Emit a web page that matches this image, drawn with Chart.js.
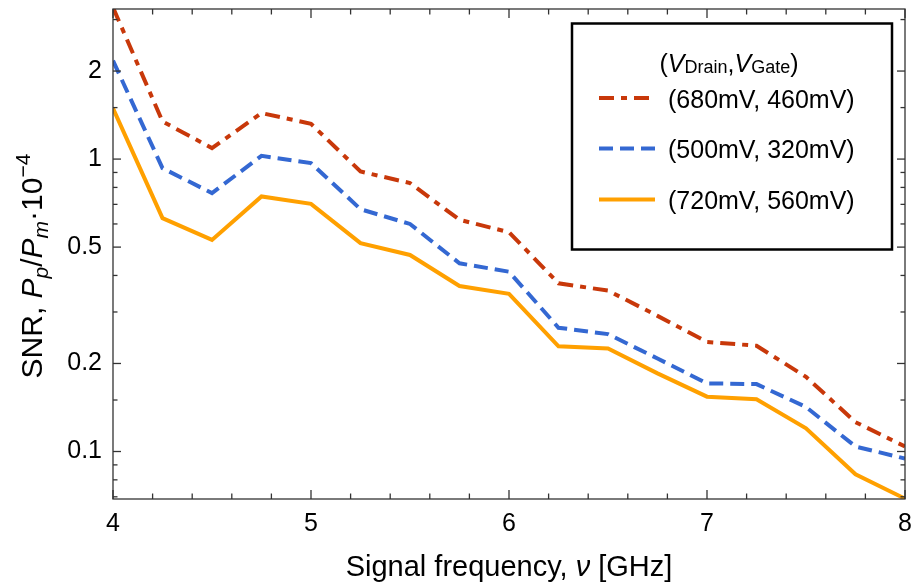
<!DOCTYPE html>
<html>
<head>
<meta charset="utf-8">
<script src="https://cdn.jsdelivr.net/npm/chart.js@4"></script>
<style>
  html, body { margin: 0; padding: 0; background: #fff; }
  #wrap { width: 911px; height: 585px; position: relative; }
</style>
</head>
<body>
<div id="wrap"><canvas id="c" width="911" height="585"></canvas></div>
<script>
// ---- data ----
const freqs = [4, 4.25, 4.5, 4.75, 5, 5.25, 5.5, 5.75, 6, 6.25, 6.5, 6.75, 7, 7.25, 7.5, 7.75, 8];
const snr680_460 = [3.3, 1.345, 1.09, 1.437, 1.32, 0.907, 0.828, 0.62, 0.562, 0.376, 0.355, 0.291, 0.237, 0.23, 0.18, 0.126, 0.104];
const snr500_320 = [2.17, 0.931, 0.765, 1.026, 0.969, 0.674, 0.60, 0.44, 0.412, 0.265, 0.252, 0.208, 0.171, 0.170, 0.142, 0.104, 0.0946];
const snr720_560 = [1.49, 0.628, 0.529, 0.745, 0.703, 0.516, 0.47, 0.368, 0.346, 0.229, 0.225, 0.185, 0.154, 0.151, 0.12, 0.0836, 0.069];
const seriesLabels = ['(680mV, 460mV)', '(500mV, 320mV)', '(720mV, 560mV)'];
const xMajorTicks = [4, 5, 6, 7, 8];
const xMinorTicks = [4.2, 4.4, 4.6, 4.8, 5.2, 5.4, 5.6, 5.8, 6.2, 6.4, 6.6, 6.8, 7.2, 7.4, 7.6, 7.8];
const yMajorTicks = [0.1, 0.2, 0.5, 1, 2];
const yMinorTicks = [0.07, 0.08, 0.09, 0.15, 0.3, 0.4, 0.6, 0.7, 0.8, 0.9, 1.5, 3];
const yRange = [0.0688, 3.26];
const xRange = [4, 8];

const FONT = '"Liberation Sans", Arial, sans-serif';

function pts(vals) { return freqs.map((f, i) => ({ x: f, y: vals[i] })); }

const frameTicks = {
  id: 'frameTicks',
  afterDatasetsDraw(chart) {
    const { ctx, chartArea: a, scales: { x, y } } = chart;
    ctx.save();
    ctx.strokeStyle = '#333';
    ctx.lineWidth = 1.3;
    const line = (x1, y1, x2, y2) => { ctx.beginPath(); ctx.moveTo(x1, y1); ctx.lineTo(x2, y2); ctx.stroke(); };
    xMajorTicks.forEach(v => { const p = x.getPixelForValue(v); line(p, a.bottom, p, a.bottom - 9); line(p, a.top, p, a.top + 9); });
    xMinorTicks.forEach(v => { const p = x.getPixelForValue(v); line(p, a.bottom, p, a.bottom - 5.5); line(p, a.top, p, a.top + 5.5); });
    yMajorTicks.forEach(v => { const p = y.getPixelForValue(v); line(a.left, p, a.left + 8, p); line(a.right, p, a.right - 8, p); });
    yMinorTicks.forEach(v => { const p = y.getPixelForValue(v); if (p < a.top || p > a.bottom) return; line(a.left, p, a.left + 4.5, p); line(a.right, p, a.right - 4.5, p); });
    ctx.strokeRect(a.left, a.top, a.right - a.left, a.bottom - a.top);
    ctx.restore();
  }
};

function drawRich(ctx, segs, x0, y0) {
  // segs: [text, font, dy]
  let w = 0;
  segs.forEach(s => { ctx.font = s[1]; w += ctx.measureText(s[0]).width; });
  let cx = x0 - w / 2;
  segs.forEach(s => { ctx.font = s[1]; ctx.fillText(s[0], cx, y0 + (s[2] || 0)); cx += ctx.measureText(s[0]).width; });
}

const titles = {
  id: 'titles',
  afterDraw(chart) {
    const { ctx, chartArea: a } = chart;
    ctx.save();
    ctx.fillStyle = '#000';
    ctx.textBaseline = 'alphabetic';
    const R = '29px ' + FONT, I = 'italic 29px ' + FONT;
    // x title
    drawRich(ctx, [['Signal frequency, ', R], ['ν', I], [' [GHz]', R]], (a.left + a.right) / 2, 576);
    // y title
    const YR = '30px ' + FONT, YI = 'italic 30px ' + FONT, YIS = 'italic 21px ' + FONT, YS = '21px ' + FONT;
    ctx.translate(42, 266);
    ctx.rotate(-Math.PI / 2);
    drawRich(ctx, [['SNR, ', YR], ['P', YI], ['p', YIS, 6], ['/', YR], ['P', YI], ['m', YIS, 6], ['·10', YR], ['−4', YS, -12]], 0, 0);
    ctx.restore();
  }
};

const legendBox = {
  id: 'legendBox',
  afterDraw(chart) {
    const { ctx } = chart;
    ctx.save();
    ctx.strokeStyle = '#000';
    ctx.lineWidth = 2.5;
    ctx.strokeRect(572, 23.5, 320, 226);
    ctx.fillStyle = '#000';
    const R = '25px ' + FONT, I = 'italic 25px ' + FONT, S = '18px ' + FONT;
    drawRich(ctx, [['(', R], ['V', I], ['Drain', S, 1], [',', R], ['V', I], ['Gate', S, 1], [')', R]], 729, 72);
    const rowsY = [98, 148.5, 199.5];
    chart.data.datasets.forEach((ds, i) => {
      ctx.strokeStyle = ds.borderColor;
      ctx.lineWidth = ds.borderWidth;
      ctx.setLineDash(ds.borderDash || []);
      ctx.beginPath(); ctx.moveTo(599, rowsY[i]); ctx.lineTo(655, rowsY[i]); ctx.stroke();
      ctx.setLineDash([]);
      ctx.font = R;
      ctx.textBaseline = 'middle';
      ctx.fillText(ds.label, 668, rowsY[i] + 3);
      ctx.textBaseline = 'alphabetic';
    });
    ctx.restore();
  }
};

new Chart(document.getElementById('c'), {
  type: 'line',
  data: {
    datasets: [
      { label: seriesLabels[0], data: pts(snr680_460), borderColor: '#C8380A', borderWidth: 4, borderDash: [15, 7, 6, 7], pointRadius: 0, fill: false, tension: 0 },
      { label: seriesLabels[1], data: pts(snr500_320), borderColor: '#3468D2', borderWidth: 4, borderDash: [14, 7], pointRadius: 0, fill: false, tension: 0 },
      { label: seriesLabels[2], data: pts(snr720_560), borderColor: '#FFA000', borderWidth: 4, pointRadius: 0, fill: false, tension: 0 }
    ]
  },
  options: {
    responsive: false,
    animation: false,
    events: [],
    layout: { padding: { top: 9, right: 6, left: 0, bottom: 0 } },
    plugins: { legend: { display: false }, tooltip: { enabled: false } },
    scales: {
      x: {
        type: 'linear', min: xRange[0], max: xRange[1],
        grid: { display: false, drawTicks: false }, border: { display: false },
        afterBuildTicks: s => { s.ticks = xMajorTicks.map(v => ({ value: v })); },
        afterFit: s => { s.height = 86; s.paddingLeft = 0; s.paddingRight = 0; },
        ticks: { color: '#000', font: { family: FONT, size: 25 }, padding: 10, maxRotation: 0, callback: v => String(v) }
      },
      y: {
        type: 'logarithmic', min: yRange[0], max: yRange[1],
        grid: { display: false, drawTicks: false }, border: { display: false },
        afterBuildTicks: s => { s.ticks = yMajorTicks.map(v => ({ value: v })); },
        afterFit: s => { s.width = 113; s.paddingTop = 0; s.paddingBottom = 0; },
        ticks: { color: '#000', font: { family: FONT, size: 25 }, padding: 11, callback: v => String(v) }
      }
    }
  },
  plugins: [frameTicks, titles, legendBox]
});
</script>
</body>
</html>
